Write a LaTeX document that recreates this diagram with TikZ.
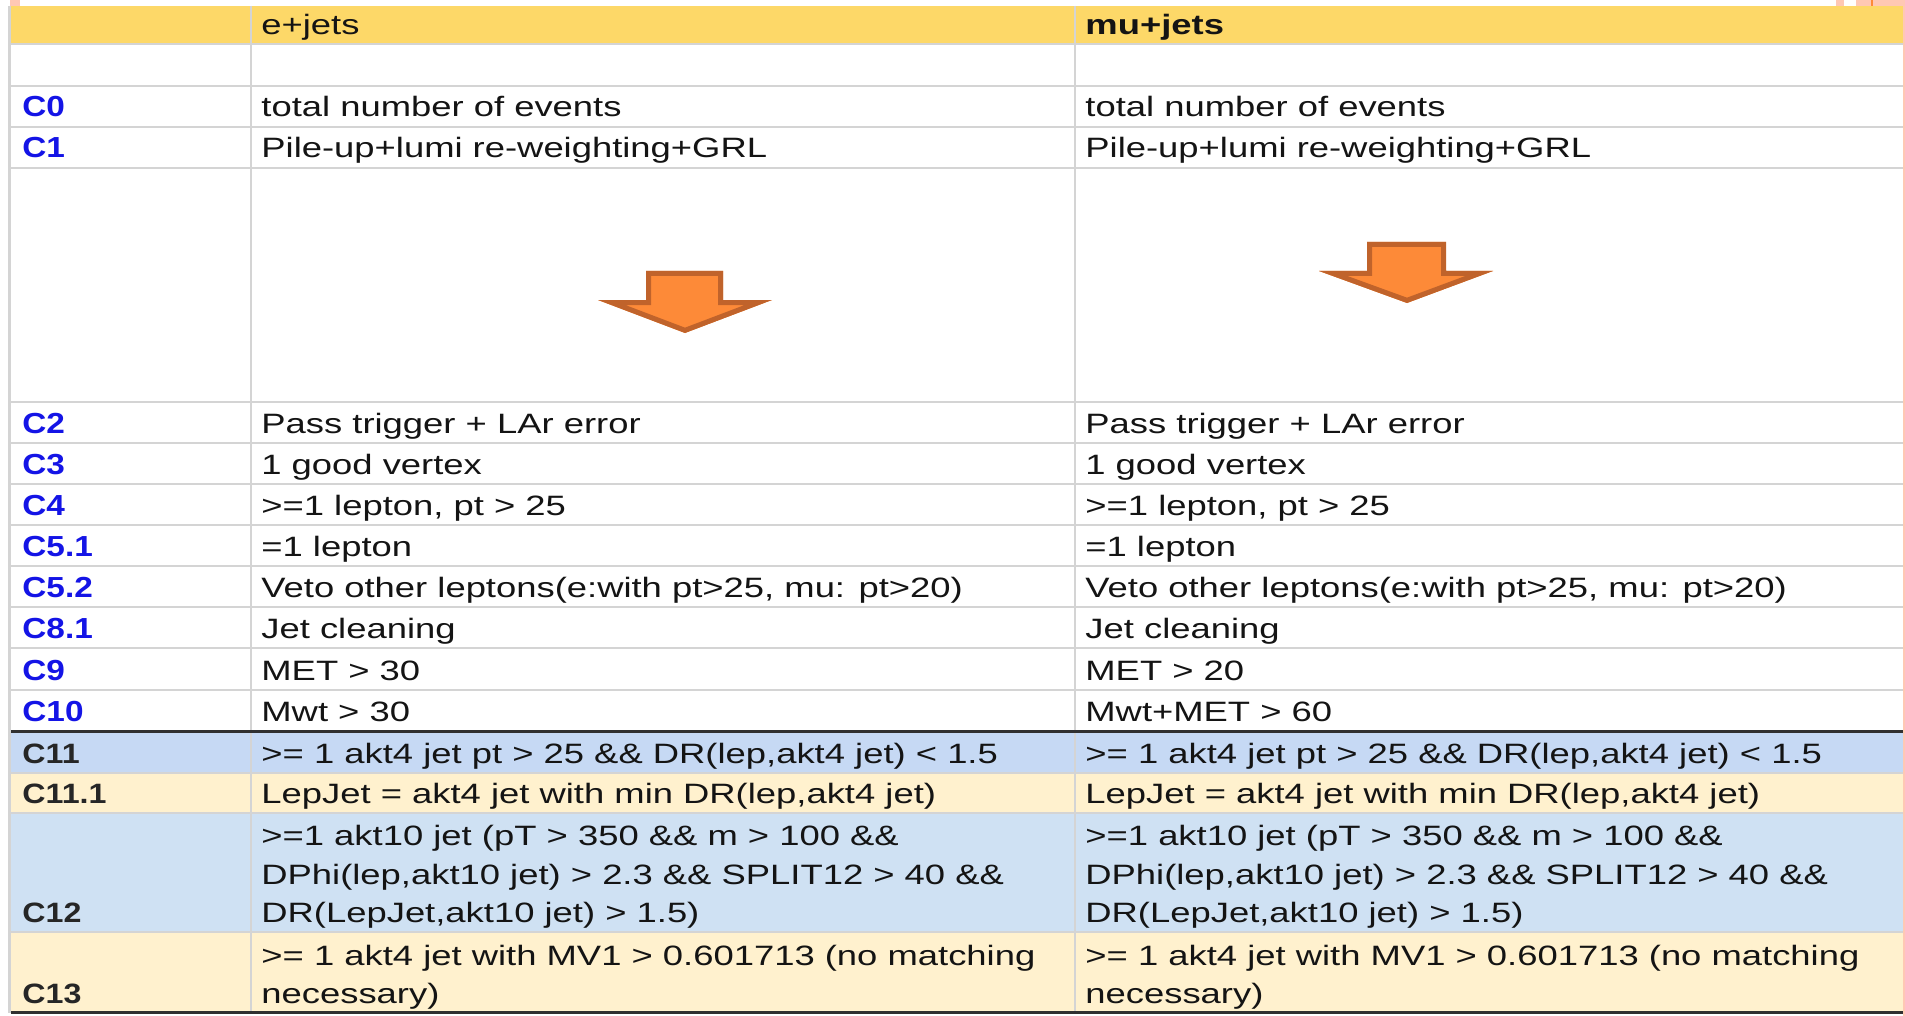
\documentclass[tikz,border=0pt]{standalone}
\usepackage{fontspec}
\setmainfont[FakeStretch=1.3]{Liberation Sans}
\newfontfamily\tagfamily[FakeStretch=1.15]{Liberation Sans}
\usepackage{xcolor}
\usepackage{tikz}
\usetikzlibrary{positioning}

\definecolor{headgold}{HTML}{FDD868}
\definecolor{cutblue}{HTML}{1414E6}
\definecolor{gridgray}{HTML}{D4D4D4}
\definecolor{ruledark}{HTML}{303030}
\definecolor{rowblue}{HTML}{C6D9F4}
\definecolor{rowpale}{HTML}{CFE1F3}
\definecolor{rowcream}{HTML}{FFF1CE}
\definecolor{arrowfill}{HTML}{FD8A38}
\definecolor{arrowedge}{HTML}{C0632B}
\definecolor{edgepink}{HTML}{FFC8B4}

\tikzset{
  cuttext/.style={anchor=base west, inner sep=0pt, text=black!92, font=\fontsize{14}{19}\selectfont},
  cuttag/.style={anchor=base west, inner sep=0pt, font=\tagfamily\bfseries\fontsize{14}{19}\selectfont},
  gridline/.style={draw=gridgray, line width=1.2pt},
  ruleline/.style={draw=ruledark, line width=1.5pt},
  flowarrow/.style={fill=arrowfill, draw=arrowedge, line width=5pt, line join=miter},
}

\begin{document}
\begin{tikzpicture}[x=0.5pt, y=-0.5pt]
  \useasboundingbox (0,0) rectangle (1905,1016);
  \fill[white] (0,0) rectangle (1905,1016);

  % scraps of the slide behind the table
  \fill[edgepink] (10,0) rectangle (20,6);
  \fill[edgepink] (1836,0) rectangle (1844,6);
  \fill[edgepink] (1856,0) rectangle (1905,6);
  \fill[arrowfill] (1871,0) rectangle (1873,6);
  \fill[edgepink] (1903,0) rectangle (1905,1016);

  % row fills
  \fill[headgold] (11,6) rectangle (1903,44);
  \fill[rowblue] (11,731) rectangle (1903,773);
  \fill[rowcream] (11,773) rectangle (1903,813);
  \fill[rowpale] (11,813) rectangle (1903,932);
  \fill[rowcream] (11,932) rectangle (1903,1012);

  % grid
  \foreach \y in {44, 86, 127, 168, 402, 443, 484, 525, 566, 607, 648, 690, 773, 813, 932} {
    \draw[gridline] (11,\y) -- (1903,\y);
  }
  \foreach \x in {9.5, 251, 1075} {
    \draw[gridline] (\x,6) -- (\x,1013);
  }
  \draw[ruleline] (11,731) -- (1903,731);
  \draw[ruleline] (11,1012) -- (1903,1012);

  % header
  \node[cuttext] (ehead) at (261,35) {e+jets};
  \node[cuttext, font=\bfseries\fontsize{14}{19}\selectfont] (muhead) at (1085,35) {mu+jets};

  % cut names
  \foreach \y/\tag [count=\k] in {117/C0, 158/C1, 433/C2, 474/C3, 515/C4, 556/C5.1, 597/C5.2, 638/C8.1, 680/C9, 721/C10} {
    \node[cuttag, text=cutblue, font=\tagfamily\bfseries\fontsize{14.5}{19}\selectfont] (tag\k) at (22,\y) {\tag};
  }
  \foreach \y/\tag [count=\k] in {763/C11, 803/C11.1, 922/C12, 1003/C13} {
    \node[cuttag, text=black!85] (btag\k) at (22,\y) {\tag};
  }

  % one-line cuts
  \foreach \y/\etext/\mtext [count=\r] in {
      117/{total number of events}/{total number of events},
      158/{Pile-up+lumi re-weighting+GRL}/{Pile-up+lumi re-weighting+GRL},
      433/{Pass trigger + LAr error}/{Pass trigger + LAr error},
      474/{1 good vertex}/{1 good vertex},
      515/{>=1 lepton, pt > 25}/{>=1 lepton, pt > 25},
      556/{=1 lepton}/{=1 lepton},
      597/{Veto other leptons(e:with pt>25, mu: pt>20)}/{Veto other leptons(e:with pt>25, mu: pt>20)},
      638/{Jet cleaning}/{Jet cleaning},
      680/{MET > 30}/{MET > 20},
      721/{Mwt > 30}/{Mwt+MET > 60},
      763/{>= 1 akt4 jet pt > 25 \&\& DR(lep,akt4 jet) < 1.5}/{>= 1 akt4 jet pt > 25 \&\& DR(lep,akt4 jet) < 1.5},
      803/{LepJet = akt4 jet with min DR(lep,akt4 jet)}/{LepJet = akt4 jet with min DR(lep,akt4 jet)}} {
    \node[cuttext] (e\r) at (261,\y) {\etext};
    \node[cuttext] (mu\r) at (1085,\y) {\mtext};
  }

  % wrapped cuts
  \foreach \x/\col in {261/e, 1085/mu} {
    \node[cuttext] (\col-ca) at (\x,845) {>=1 akt10 jet (pT > 350 \&\& m > 100 \&\&};
    \node[cuttext] (\col-cb) at (\x,884) {DPhi(lep,akt10 jet) > 2.3 \&\& SPLIT12 > 40 \&\&};
    \node[cuttext] (\col-cc) at (\x,922) {DR(LepJet,akt10 jet) > 1.5)};
    \node[cuttext] (\col-da) at (\x,965) {>= 1 akt4 jet with MV1 > 0.601713 (no matching};
    \node[cuttext] (\col-db) at (\x,1003) {necessary)};
  }

  % block arrows, border kept inside the outline
  \foreach \l/\r/\t/\m/\hl/\hr/\tip/\tx in {646/723/271/300/598/772/333/685, 1367/1446/242/271/1319/1493/303/1407} {
    \begin{scope}
      \clip (\l,\t) -- (\r,\t) -- (\r,\m) -- (\hr,\m) -- (\tx,\tip) -- (\hl,\m) -- (\l,\m) -- cycle;
      \draw[flowarrow] (\l,\t) -- (\r,\t) -- (\r,\m) -- (\hr,\m) -- (\tx,\tip) -- (\hl,\m) -- (\l,\m) -- cycle;
    \end{scope}
  }
\end{tikzpicture}
\end{document}
